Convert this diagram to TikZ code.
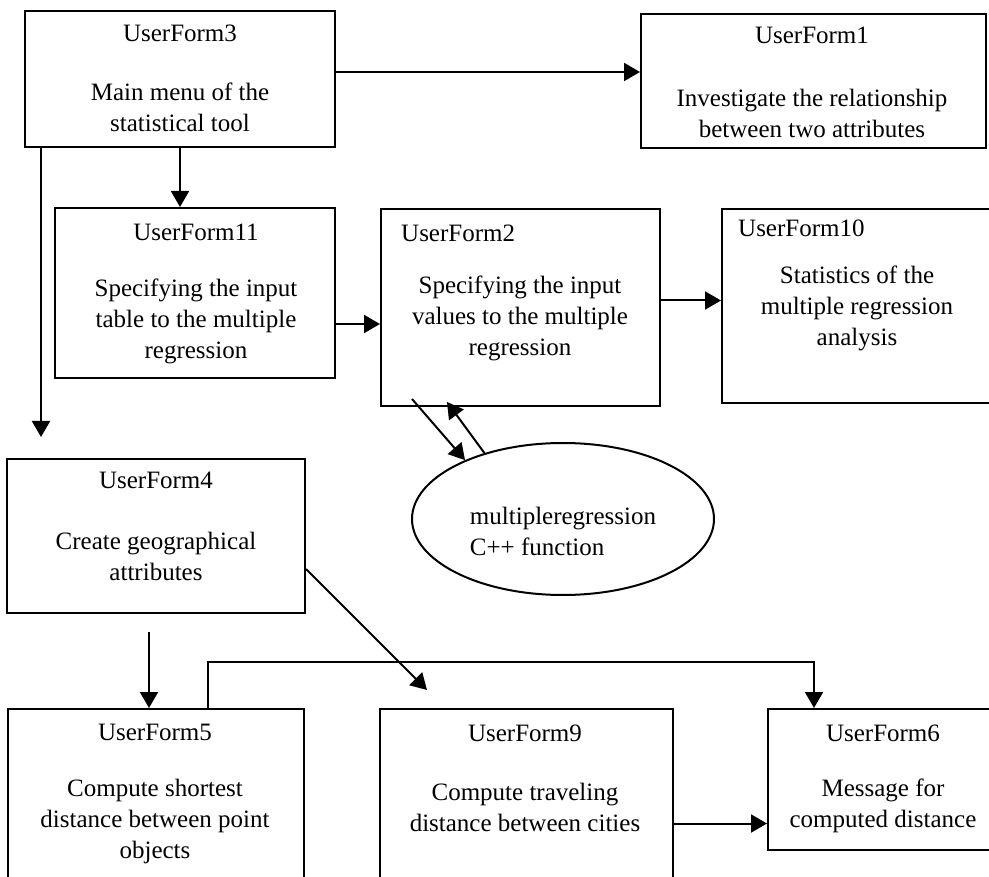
\documentclass[tikz,border=0pt]{standalone}
\usepackage{fontspec}
\setmainfont{Liberation Serif}
\usetikzlibrary{shapes,arrows.meta,positioning,calc}

\begin{document}
\begin{tikzpicture}[
  x=1pt, y=-1pt,
  font=\fontsize{25}{31}\selectfont,
  form/.style={rectangle, draw, line width=2pt, anchor=north west, inner sep=0pt},
  formname/.style={inner sep=0pt},
  formtext/.style={inner sep=0pt, align=center},
  flow/.style={line width=2pt, -{Triangle[length=16pt, width=18pt]}}
]
  \fill[white] (0,0) rectangle (989,877);
  \useasboundingbox (0,0) rectangle (989,877);

  % user forms
  \node[form, minimum width=310pt, minimum height=136pt] (uf3)  at (24,10)   {};
  \node[form, minimum width=345pt, minimum height=134pt] (uf1)  at (640,13)  {};
  \node[form, minimum width=280pt, minimum height=170pt] (uf11) at (54,207)  {};
  \node[form, minimum width=279pt, minimum height=197pt] (uf2)  at (380,208) {};
  \node[form, minimum width=275pt, minimum height=194pt] (uf10) at (721,208) {};
  \node[form, minimum width=298pt, minimum height=154pt] (uf4)  at (6,458)   {};
  \node[form, minimum width=296pt, minimum height=180pt] (uf5)  at (7,708)   {};
  \node[form, minimum width=293pt, minimum height=180pt] (uf9)  at (379,708) {};
  \node[form, minimum width=230pt, minimum height=141pt] (uf6)  at (767,708) {};
  \node[draw, ellipse, line width=2pt, minimum width=302pt, minimum height=152pt] (func) at (563,519) {};

  % names and captions
  \node[formname] (uf3name) at (180,33) {UserForm3};
  \node[formtext] (uf3text) at (180,107) {Main menu of the\\statistical tool};
  \node[formname] (uf1name) at (812,35) {UserForm1};
  \node[formtext] (uf1text) at (812,113) {Investigate the relationship\\between two attributes};
  \node[formname] (uf11name) at (196,232) {UserForm11};
  \node[formtext] (uf11text) at (196,321) {Specifying the input\\table to the multiple\\regression};
  \node[formname, anchor=west] (uf2name) at (401,233) {UserForm2};
  \node[formtext] (uf2text) at (520,318) {Specifying the input\\values to the multiple\\regression};
  \node[formname, anchor=west] (uf10name) at (738,228) {UserForm10};
  \node[formtext] (uf10text) at (857,308) {Statistics of the\\multiple regression\\analysis};
  \node[formname] (uf4name) at (156,480) {UserForm4};
  \node[formtext] (uf4text) at (156,556) {Create geographical\\attributes};
  \node[formname] (uf5name) at (155,732) {UserForm5};
  \node[formtext] (uf5text) at (155,821) {Compute shortest\\distance between point\\objects};
  \node[formname] (uf9name) at (525,733) {UserForm9};
  \node[formtext] (uf9text) at (525,807) {Compute traveling\\distance between cities};
  \node[formname] (uf6name) at (883,733) {UserForm6};
  \node[formtext] (uf6text) at (883,806) {Message for\\computed distance};
  \node[formtext, align=left] (functext) at (563,531) {multipleregression\\C++ function};

  % loose ends
  \coordinate (drop) at (41,437);
  \coordinate (aim)  at (427,690);
  \coordinate (feed) at (149,632);
  \coordinate (hop)  at (208,662);

  % connectors
  \draw[flow] ([yshift=7pt]uf3.east) -- ([yshift=7pt]uf3.east -| uf1.west);
  \draw[flow] (uf3.south) -- (uf3.south |- uf11.north);
  \draw[flow] (uf3.south -| drop) -- (drop);
  \draw[flow] ([yshift=-31pt]uf11.east) -- ([yshift=-31pt]uf11.east -| uf2.west);
  \draw[flow] ([yshift=7pt]uf2.east) -- ([yshift=7pt]uf2.east -| uf10.west);
  \draw[flow] ([xshift=32pt, yshift=8pt]uf2.south west) -- (func.149);
  \draw[flow] (func.140) -- ([xshift=67pt, yshift=5pt]uf2.south west);
  \draw[flow] ([yshift=-33pt]uf4.east) -- (aim);
  \draw[flow] (feed) -- (feed |- uf5.north);
  \draw[flow] (hop |- uf5.north) -- (hop) -| ([xshift=47pt]uf6.north west);
  \draw[flow] ([yshift=-44pt]uf6.west -| uf9.east) -- ([yshift=-44pt]uf6.west);
\end{tikzpicture}
\end{document}
